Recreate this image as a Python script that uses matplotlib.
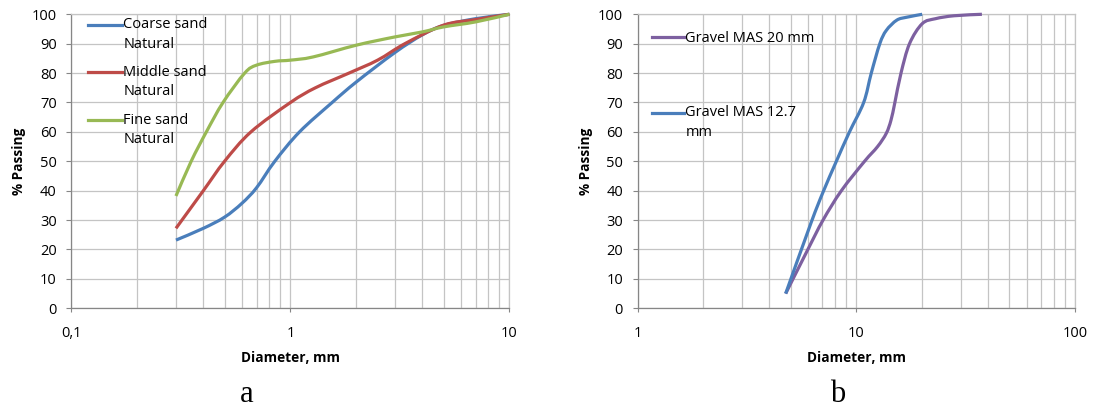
import numpy as np
import matplotlib
matplotlib.use("Agg")
import matplotlib.pyplot as plt
from matplotlib import ticker
from matplotlib.lines import Line2D
from matplotlib.path import Path
from matplotlib.patches import PathPatch
from matplotlib.legend_handler import HandlerLine2D

plt.rcParams['font.family'] = ['Open Sans', 'DejaVu Sans']

# (a) sands - diameter in mm, % passing
coarse_d = [0.3, 0.4, 0.5, 0.6, 0.7, 0.848, 1.1, 1.55, 2, 3, 4, 5, 7, 10]
coarse_sand = [23.2, 27.2, 31, 35.7, 41, 50, 60, 70, 77, 87, 93, 96.2, 98.5, 100]
middle_d = [0.3, 0.4, 0.5, 0.66, 1.0, 1.3, 1.85, 2.5, 3.33, 5, 7, 10]
middle_sand = [27.2, 40, 50, 60, 70, 75, 80, 84.4, 90, 96.3, 98.2, 100]
fine_d = [0.3, 0.352, 0.413, 0.492, 0.618, 0.7, 0.85, 1.0, 1.27, 2, 3, 4, 5, 7, 10]
fine_sand = [38.2, 50, 60, 70, 80, 82.7, 84, 84.4, 85.5, 89.5, 92.3, 94, 95.7, 97.4, 100]
sand_labels = ['Coarse sand\nNatural', 'Middle sand\nNatural', 'Fine sand\nNatural']

# (b) gravels
gravel20_d = [4.75, 6, 7.04, 8.54, 10.9, 12.5, 13.7, 14.4, 15, 16, 17.5, 20, 23, 28, 37.5]
gravel20 = [5, 20, 30, 40, 50, 55, 59.5, 64, 70, 80, 90, 96.8, 98.5, 99.5, 100]
gravel127_d = [4.75, 6.2, 7.04, 8.1, 9.3, 10.8, 11.7, 12.8, 13.7, 15.3, 17, 20]
gravel127 = [5, 29, 39.5, 50, 60, 70, 80, 90, 94.5, 98, 99, 100]
gravel_labels = ['Gravel MAS 20 mm', 'Gravel MAS 12.7\nmm']

BLUE = '#4a7ebb'
RED = '#be4b48'
GREEN = '#98b954'
PURPLE = '#7d60a0'
GRID = '#c4c4c4'
AXIS = '#868686'
FS = 10.5
LSP = 1.4
LW = 2.3


class FirstLineHandler(HandlerLine2D):
    """Put the legend line next to the first line of a two-line label."""
    def __init__(self, shift, **kw):
        super().__init__(**kw)
        self.shift = shift

    def create_artists(self, legend, orig_handle, xdescent, ydescent,
                       width, height, fontsize, trans):
        arts = super().create_artists(legend, orig_handle, xdescent, ydescent,
                                      width, height, fontsize, trans)
        for a in arts:
            a.set_ydata(np.asarray(a.get_ydata(), float) + self.shift)
        return arts


def smooth_line(ax, x, y, color):
    """Excel-like smoothed line: cubic bezier through the points (in log-x space)."""
    lx = np.log10(np.asarray(x, float))
    yy = np.asarray(y, float)
    p = np.column_stack([lx, yy])
    pp = np.vstack([p[0], p, p[-1]])
    verts = [p[0]]
    codes = [Path.MOVETO]
    for i in range(len(p) - 1):
        p0, p1, p2, p3 = pp[i], pp[i + 1], pp[i + 2], pp[i + 3]
        c1 = p1 + (p2 - p0) / 6.0
        c2 = p2 - (p3 - p1) / 6.0
        verts += [c1, c2, p2]
        codes += [Path.CURVE4] * 3
    verts = np.array(verts)
    verts[:, 0] = 10 ** verts[:, 0]
    patch = PathPatch(Path(verts, codes), fill=False, edgecolor=color, lw=LW,
                      joinstyle='round', clip_on=False, zorder=3)
    ax.add_patch(patch)
    return Line2D([], [], color=color, lw=LW)


def style_axes(ax, xmin, xmax):
    ax.set_xscale('log')
    ax.set_xlim(xmin, xmax)
    ax.set_ylim(0, 100)
    ax.yaxis.set_major_locator(ticker.MultipleLocator(10))
    ax.xaxis.set_major_locator(ticker.LogLocator(base=10))
    ax.xaxis.set_minor_locator(ticker.LogLocator(base=10, subs=np.arange(2, 10)))
    ax.xaxis.set_major_formatter(ticker.FuncFormatter(lambda v, p: f"{v:g}".replace('.', ',')))
    ax.xaxis.set_minor_formatter(ticker.NullFormatter())
    ax.grid(True, which='both', axis='x', color=GRID, lw=0.9)
    ax.grid(True, which='major', axis='y', color=GRID, lw=0.9)
    ax.set_axisbelow(True)
    for s in ('left', 'bottom'):
        ax.spines[s].set_color(AXIS)
        ax.spines[s].set_linewidth(0.9)
    for s in ('top', 'right'):
        ax.spines[s].set_color(GRID)
        ax.spines[s].set_linewidth(0.9)
    ax.tick_params(axis='y', which='major', length=3.6, color=AXIS, pad=7, labelsize=FS)
    ax.tick_params(axis='x', which='major', length=3, color=AXIS, pad=9.5, labelsize=FS)
    ax.tick_params(axis='x', which='minor', length=0)
    ax.set_xlabel('Diameter, mm', fontsize=9.8, fontweight='bold')
    ax.set_ylabel('% Passing', fontsize=9.8, fontweight='bold')
    ax.xaxis.set_label_coords(0.5, -0.145)
    ax.yaxis.set_label_coords(-0.103, 0.5)


fig = plt.figure(figsize=(10.93, 4.07), dpi=100)
ax1 = fig.add_axes([0.0654, 0.2425, 0.4007, 0.7224])
ax2 = fig.add_axes([0.5834, 0.2425, 0.4002, 0.7224])
shift = 0.5 * LSP * FS

# chart a
style_axes(ax1, 0.1, 10)
h1 = smooth_line(ax1, coarse_d, coarse_sand, BLUE)
h2 = smooth_line(ax1, middle_d, middle_sand, RED)
h3 = smooth_line(ax1, fine_d, fine_sand, GREEN)
hm = {h: FirstLineHandler(shift) for h in (h1, h2, h3)}
leg1 = ax1.legend([h1, h2, h3], sand_labels, loc='upper left', bbox_to_anchor=(0.0377, 0.99),
                  frameon=False, fontsize=FS, borderpad=0, borderaxespad=0,
                  handlelength=2.3, handletextpad=0.12, labelspacing=0.92, handler_map=hm)
for t in leg1.get_texts():
    t.set_linespacing(LSP)

# chart b
style_axes(ax2, 1, 100)
g1 = smooth_line(ax2, gravel20_d, gravel20, PURPLE)
g2 = smooth_line(ax2, gravel127_d, gravel127, BLUE)
leg2 = ax2.legend([g1, g2], gravel_labels, loc='upper left', bbox_to_anchor=(0.032, 0.942),
                  frameon=False, fontsize=FS, borderpad=0, borderaxespad=0,
                  handlelength=2.2, handletextpad=0.12, labelspacing=4.05,
                  handler_map={g2: FirstLineHandler(shift)})
for t in leg2.get_texts():
    t.set_linespacing(LSP)

fig.text(246.5 / 1093, 1 - 402 / 407, 'a', family='Liberation Serif', fontsize=22,
         ha='center', va='baseline')
fig.text(838 / 1093, 1 - 402 / 407, 'b', family='Liberation Serif', fontsize=22,
         ha='center', va='baseline')

fig.savefig('out.png', dpi=100)
